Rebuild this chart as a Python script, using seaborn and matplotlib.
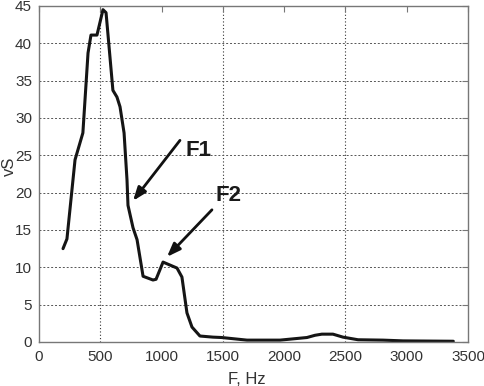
import matplotlib
matplotlib.use("Agg")
import matplotlib.pyplot as plt
import numpy as np
import pandas as pd
import seaborn as sns

# spectrum values
freq_hz = [196, 228, 294, 358, 400, 424, 473, 522, 547, 603, 636, 661, 694,
           718, 726, 767, 800, 849, 930, 955, 1012, 1126, 1166, 1207, 1248,
           1313, 1420, 1490, 1697, 1966, 2186, 2252, 2308, 2398, 2480, 2603,
           2806, 2970, 3380]
vs_vals = [12.5, 13.8, 24.4, 28.0, 38.7, 41.1, 41.1, 44.5, 44.1, 33.7, 32.8,
           31.5, 28.0, 21.7, 18.3, 15.3, 13.7, 8.8, 8.3, 8.4, 10.7, 9.9, 8.7,
           3.9, 2.0, 0.8, 0.65, 0.6, 0.25, 0.25, 0.6, 0.9, 1.05, 1.05, 0.65,
           0.3, 0.25, 0.15, 0.1]

# annotations: label, text position, arrow tail, arrow tip
ann_labels = ["F1", "F2"]
ann_text_xy = [(1305, 25.6), (1542, 19.6)]
ann_tail_xy = [(1150, 27.0), (1411, 17.7)]
ann_tip_xy = [(767, 18.9), (1044, 11.4)]

df = pd.DataFrame({"F": freq_hz, "vS": vs_vals})

sns.set_style("white")
plt.rcParams["font.family"] = ["Liberation Sans", "DejaVu Sans"]

fig = plt.figure(figsize=(4.85, 3.86), dpi=100)
ax = fig.add_axes([0.0804, 0.114, 0.8846, 0.8706])

sns.lineplot(data=df, x="F", y="vS", ax=ax, color="#151515", linewidth=2.2,
             sort=False)

ax.set_xlim(0, 3500)
ax.set_ylim(0, 45)
ax.set_xticks(np.arange(0, 3501, 500))
ax.set_yticks(np.arange(0, 46, 5))

# dotted grid (only the odd x gridlines show in the original)
ax.grid(True, axis="y", linestyle=(0, (2, 2)), color="#555555", linewidth=0.7)
for xv in [500, 1500, 2500]:
    ax.axvline(xv, linestyle=(0, (1, 2)), color="#333333", linewidth=0.8,
               zorder=0)

for s in ax.spines.values():
    s.set_color("#777777")
    s.set_linewidth(1.0)
ax.tick_params(direction="in", top=True, right=True, length=4,
               color="#777777", labelsize=11, labelcolor="#333333")
ax.tick_params(axis="x", pad=6)
ax.tick_params(axis="y", pad=5)

ax.set_xlabel("F, Hz", fontsize=12, color="#333333")
ax.set_ylabel("vS", fontsize=12, color="#333333", va="center")
ax.xaxis.set_label_coords(0.485, -0.089)
ax.yaxis.set_label_coords(-0.068, 0.524)

for lab, txy, tail, tip in zip(ann_labels, ann_text_xy, ann_tail_xy, ann_tip_xy):
    ax.text(txy[0], txy[1], lab, fontsize=16, fontweight="bold",
            color="#1a1a1a", ha="center", va="center")
    ax.annotate("", xy=tip, xytext=tail,
                arrowprops=dict(arrowstyle="-|>,head_length=0.8,head_width=0.3",
                                color="#111111", lw=2.0, shrinkA=0, shrinkB=0))

fig.savefig("out.png", dpi=100)
